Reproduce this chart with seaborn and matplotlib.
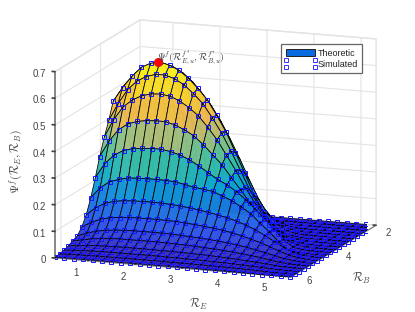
import numpy as np
import matplotlib
matplotlib.use("Agg")
import matplotlib.pyplot as plt
import matplotlib.transforms as mtrans
import seaborn as sns
from matplotlib.lines import Line2D
from matplotlib.patches import Patch
from matplotlib.legend_handler import HandlerBase
from mpl_toolkits.mplot3d import proj3d

sns.set_theme(style="white")
plt.rcParams['font.family'] = ['Liberation Sans', 'DejaVu Sans']
plt.rcParams['mathtext.fontset'] = 'cm'

RE = [0.3, 0.5, 0.7, 0.9, 1.1, 1.3, 1.5, 1.7, 1.9, 2.1, 2.3, 2.5, 2.7, 2.9, 3.1, 3.3, 3.5, 3.7, 3.9, 4.1, 4.3, 4.5, 4.7, 4.9, 5.1, 5.3]
RB = [6.3, 6.07, 5.85, 5.62, 5.4, 5.17, 4.94, 4.72, 4.49, 4.26, 4.04, 3.81, 3.58, 3.36, 3.13, 2.9, 2.68, 2.45, 2.23, 2.0]

row00 = [.002,.003,.003,.003,.003,.003,.003,.003,.003,.003,.003,.003,.003,.003,.003,.003,.002,.002,.002,.002,.001,.001,0,0,0,0]
row01 = [.005,.006,.007,.007,.008,.008,.008,.008,.008,.008,.008,.008,.007,.007,.007,.006,.006,.005,.005,.004,.003,.002,.001,0,0,0]
row02 = [.009,.011,.013,.014,.015,.015,.015,.015,.015,.015,.015,.014,.014,.013,.013,.012,.011,.01,.009,.007,.005,.004,.002,.001,0,0]
row03 = [.015,.018,.022,.024,.025,.026,.026,.026,.026,.026,.025,.025,.024,.023,.022,.021,.019,.017,.015,.012,.01,.007,.003,.001,0,0]
row04 = [.024,.03,.037,.041,.044,.045,.045,.045,.045,.045,.044,.043,.042,.04,.038,.036,.033,.03,.026,.022,.017,.011,.006,.002,.001,0]
row05 = [.032,.045,.055,.061,.065,.067,.068,.068,.068,.068,.067,.065,.063,.061,.058,.055,.051,.046,.04,.033,.025,.017,.009,.004,.001,0]
row06 = [.056,.075,.09,.098,.102,.105,.106,.106,.106,.105,.104,.101,.098,.094,.09,.085,.078,.07,.06,.05,.037,.024,.012,.005,.001,0]
row07 = [.091,.12,.14,.15,.155,.157,.158,.158,.157,.155,.152,.148,.143,.137,.13,.122,.112,.10,.085,.067,.047,.028,.012,.004,.001,0]
row08 = [.145,.185,.21,.222,.23,.232,.233,.233,.232,.23,.222,.215,.21,.205,.19,.176,.155,.133,.10,.07,.035,.006,.001,0,0,0]
row09 = [.21,.265,.30,.32,.33,.334,.336,.336,.33,.32,.305,.285,.262,.24,.222,.20,.172,.14,.105,.07,.034,.009,.002,0,0,0]
row10 = [.279,.34,.385,.41,.422,.428,.43,.43,.42,.405,.385,.355,.32,.285,.24,.195,.15,.11,.072,.043,.02,.007,.002,0,0,0]
row11 = [.341,.41,.46,.49,.508,.518,.52,.515,.50,.478,.45,.41,.365,.31,.255,.195,.14,.09,.05,.024,.009,.003,0,0,0,0]
row12 = [.394,.46,.515,.55,.57,.581,.581,.57,.55,.52,.485,.435,.38,.315,.245,.175,.115,.065,.03,.012,.004,0,0,0,0,0]
row13 = [.455,.51,.555,.592,.61,.617,.608,.592,.565,.53,.49,.435,.375,.30,.225,.145,.085,.04,.015,.005,0,0,0,0,0,0]
row14 = [.47,.52,.56,.585,.595,.60,.59,.57,.54,.50,.455,.40,.335,.265,.19,.12,.065,.03,.01,.003,0,0,0,0,0,0]
row15 = [.44,.48,.51,.53,.535,.53,.52,.495,.46,.42,.37,.315,.255,.195,.135,.08,.04,.015,.005,0,0,0,0,0,0,0]
row16 = [.35,.39,.42,.43,.43,.42,.40,.37,.335,.295,.25,.205,.16,.115,.075,.04,.02,.007,0,0,0,0,0,0,0,0]
row17 = [.22,.25,.27,.27,.265,.25,.23,.205,.18,.15,.12,.09,.065,.045,.025,.012,.005,0,0,0,0,0,0,0,0,0]
row18 = [.09,.10,.11,.105,.10,.09,.08,.07,.055,.045,.03,.02,.012,.007,.003,.001,0,0,0,0,0,0,0,0,0,0]
row19 = [.02,.02,.02,.02,.018,.015,.012,.01,.007,.005,.003,.002,.001,0,0,0,0,0,0,0,0,0,0,0,0,0]

PEAK = (1.25, 3.36, 0.617)
Z_TICKS = [0, 0.1, 0.2, 0.3, 0.4, 0.5, 0.6, 0.7]
Z_LABELS = ['0', '0.1', '0.2', '0.3', '0.4', '0.5', '0.6', '0.7']
X_TICKS = [1, 2, 3, 4, 5]
Y_TICKS = [2, 4, 6]

Z = np.array([row00, row01, row02, row03, row04, row05, row06, row07, row08, row09,
              row10, row11, row12, row13, row14, row15, row16, row17, row18, row19])
X, Y = np.meshgrid(RE, RB)

parula = sns.blend_palette(
    ['#3a22b0', '#2c50e8', '#1878e0', '#0aa8d0', '#40c0a0', '#a0c080', '#f0b850', '#f8d030', '#f8f020'],
    as_cmap=True)

W, H = 415, 312
fig = plt.figure(figsize=(W / 100, H / 100), dpi=100)
ax = fig.add_axes([0, 0, 1, 1], projection='3d', computed_zorder=False, proj_type='ortho')
ax.view_init(elev=12.8, azim=-70)
zoom = 1.0
aspect = (251, 248.5, 191)
ax.set_box_aspect(aspect, zoom=zoom)

ax.set_xlim(0.3, 5.32, view_margin=0)
ax.set_ylim(6.3, 2.0, view_margin=0)
ax.set_zlim(0, 0.7, view_margin=0)

ax.plot_surface(X, Y, Z, cmap=parula, vmin=0, vmax=0.59, rstride=1, cstride=1,
                edgecolor='black', linewidth=0.55, shade=False, alpha=0.97, zorder=2)

for k in range(len(RB)):
    start = 0 if k <= 13 else int(np.ceil(24 - 0.53 * k))
    ax.plot(RE[start:], [RB[k]] * (len(RE) - start), Z[k, start:], ls='none', marker='s',
            ms=3.3, mfc='none', mec='#1414ff', mew=0.7, zorder=3)
ax.plot([PEAK[0]], [PEAK[1]], [PEAK[2]], ls='none', marker='o', ms=5.5, mfc='#ff0000',
        mec='#e01010', zorder=4)
fig.text(157 / W, 1 - 58 / H, r'$\Psi^f(\mathcal{R}_{E,u}^{f^*},\mathcal{R}_{B,u}^{f^*})$',
         fontsize=7, color='#333333', ha='left', va='center')

ax.set_xticks(X_TICKS)
ax.set_yticks(Y_TICKS)
ax.set_zticks(Z_TICKS)
ax.set_zticklabels(Z_LABELS)
ax.tick_params(labelsize=7, colors='#444444', pad=0)
ax.tick_params(axis='x', pad=-3)
ax.tick_params(axis='y', pad=-3)
ax.tick_params(axis='z', pad=0)
ax.zaxis.set_ticks_position('upper')
for axis in (ax.xaxis, ax.yaxis, ax.zaxis):
    axis.set_pane_color((1, 1, 1, 1))
    axis.pane.set_edgecolor('#e2e2e2')
    axis._axinfo['grid'].update(color='#e4e4e4', linewidth=0.8)
    axis._axinfo['tick'].update(inward_factor=0.0, outward_factor=0.15)
    axis.line.set_color('#808080')
    axis.line.set_linewidth(0.9)
ax.zaxis.line.set_linewidth(1.3)


def nudge(axis, dx, dy, ha=None):
    off = mtrans.ScaledTranslation(dx / 100, -dy / 100, fig.dpi_scale_trans)
    orig = axis.get_major_ticks

    def patched(numticks=None):
        ticks = orig(numticks)
        for t in ticks:
            t.label1.set_transform(ax.transData + off)
            if ha:
                t.label1.set_ha(ha)
        return ticks
    axis.get_major_ticks = patched


nudge(ax.xaxis, -8, -3)
nudge(ax.yaxis, 2, -6)
nudge(ax.zaxis, 13, -5, ha='right')

fig.text(198 / W, 1 - 304 / H, r'$\mathcal{R}_E$', fontsize=8.5, color='#444444', ha='center', va='center')
fig.text(361 / W, 1 - 278 / H, r'$\mathcal{R}_B$', fontsize=8.5, color='#444444', ha='center', va='center')
fig.text(16 / W, 1 - 162 / H, r'$\Psi^f(\mathcal{R}_E,\mathcal{R}_B)$', fontsize=8.5, color='#444444',
         rotation=90, ha='center', va='center')


class FourSquares(HandlerBase):
    def create_artists(self, legend, orig, xd, yd, width, height, fontsize, trans):
        out = []
        for fy in (-1.0, 0.95):
            l = Line2D([-xd, width - xd], [height / 2 + fy * 2.5] * 2, ls='none', marker='s', ms=3.2,
                       mfc='none', mec='#1414ff', mew=0.6, transform=trans)
            out.append(l)
        return out


handles = [Patch(facecolor='#0a6ae0', edgecolor='#222222', linewidth=0.7, label='Theoretic'),
           Line2D([], [], label='Simulated')]
leg = fig.legend(handles=handles, loc='upper left', bbox_to_anchor=(281 / W, 1 - 44 / H),
                 fontsize=6.5, frameon=True, fancybox=False, edgecolor='#666666', framealpha=1,
                 borderpad=0.5, borderaxespad=0, labelspacing=0.25, handlelength=3.3, handletextpad=0.25,
                 handler_map={Line2D: FourSquares()})
leg.get_frame().set_linewidth(0.9)
for t in leg.get_texts():
    t.set_color('#222222')


def corner(x, y, z):
    fig.canvas.draw()
    a, b, _ = proj3d.proj_transform(x, y, z, ax.get_proj())
    return ax.transData.transform((a, b))


for _ in range(3):
    span = corner(5.32, 6.3, 0)[0] - corner(0.3, 6.3, 0)[0]
    zoom *= 236 / span
    ax.set_box_aspect(aspect, zoom=zoom)
    p = corner(0.3, 6.3, 0)
    pos = ax.get_position()
    ax.set_position([pos.x0 + (55 - p[0]) / W, pos.y0 + ((H - 258) - p[1]) / H, pos.width, pos.height])

fig.savefig('out.png', dpi=100)
